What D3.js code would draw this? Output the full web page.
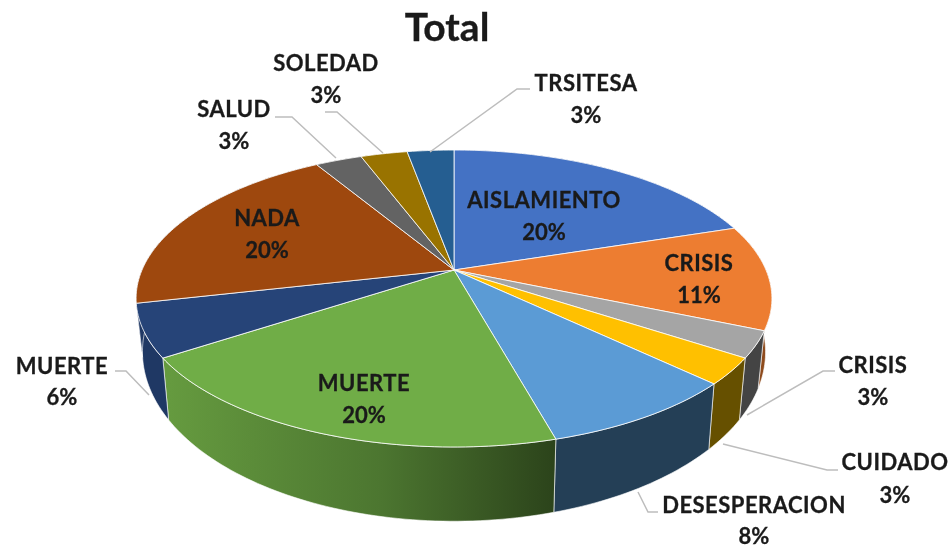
<!DOCTYPE html>
<html>
<head>
<meta charset="utf-8">
<script src="https://cdnjs.cloudflare.com/ajax/libs/d3/7.8.5/d3.min.js"></script>
<style>
  html, body { margin: 0; padding: 0; background: #fff; }
  svg { display: block; filter: blur(0.45px); }
  text { font-family: Lato, sans-serif; font-weight: 700; fill: #1a1a1a; stroke: #1a1a1a; stroke-width: 0.3px; text-anchor: middle; }
</style>
</head>
<body>
<div id="chart"></div>
<script>
// data: answer counts (35 answers), labels as printed
var categories = ["AISLAMIENTO", "CRISIS", "CRISIS", "CUIDADO", "DESESPERACION", "MUERTE", "MUERTE", "NADA", "SALUD", "SOLEDAD", "TRSITESA"];
var counts = [7, 4, 1, 1, 3, 7, 2, 7, 1, 1, 1];
var percentLabels = ["20%", "11%", "3%", "3%", "8%", "20%", "6%", "20%", "3%", "3%", "3%"];

// colours, top face and wall
var topColors = ["#4472c4", "#ed7d31", "#a5a5a5", "#ffc000", "#5b9bd5", "#70ad47", "#264478", "#9e480e", "#636363", "#997300", "#255e91"];
var wallColors = ["#294475", "#8e4b1d", "#444444", "#665000", "#243f56", "url(#greenWall)", "#1f3864", "#1f3864", "#3b3b3b", "#5c4500", "#163857"];

// label placement: centre x, y of both lines
var labelPlaces = [[544, 200, 232], [699, 263, 295], [873, 365, 397], [895, 462, 495], [754, 505, 536], [364, 383, 415], [62, 366, 397], [267, 218, 250], [234, 109, 141], [326, 63, 95], [586, 83, 115]];

// leader lines for the outside labels, index into categories then the 3 points
var leaders = [
  [2, [[835, 371], [823, 371], [747, 415]]],
  [3, [[838, 470], [827, 470], [723, 444]]],
  [4, [[658, 512], [648, 512], [638, 492]]],
  [6, [[115, 371], [126, 371], [149, 395]]],
  [8, [[275, 117], [292, 117], [336, 158]]],
  [9, [[325, 112], [337, 112], [383, 153]]],
  [10, [[530, 89], [517, 89], [430, 152]]]
];

var width = 949, height = 546;

var svg = d3.select("#chart")
  .append("svg")
    .attr("width", width)
    .attr("height", height);

var grad = svg.append("defs").append("linearGradient")
    .attr("id", "greenWall")
    .attr("gradientUnits", "userSpaceOnUse")
    .attr("x1", 170).attr("x2", 553).attr("y1", 0).attr("y2", 0);
grad.append("stop").attr("offset", "0%").attr("stop-color", "#659a3f");
grad.append("stop").attr("offset", "55%").attr("stop-color", "#4c7630");
grad.append("stop").attr("offset", "100%").attr("stop-color", "#2c441b");

// tilted disc: perspective projection of the unit circle
var cx = 454, cy = 270, rx = 312, ry = 143, persp = 0.192;

function project(angle) {
  var u = Math.sin(angle), v = -Math.cos(angle), w = 1 - persp * v;
  return [cx + rx * u / w, cy + ry * v / w];
}

function projectBottom(angle) {
  var p = project(angle), v = -Math.cos(angle), t = v / (1 - persp * v);
  return [cx + (p[0] - cx) * 0.98, p[1] + 49.5 + 20 * t];
}

var pie = d3.pie().sort(null).value(function(d) { return d; });
var slices = pie(counts);
var line = d3.line();

function sampleAngles(a0, a1) {
  var n = Math.max(2, Math.ceil((a1 - a0) / 0.02));
  return d3.range(n + 1).map(function(i) { return a0 + (a1 - a0) * i / n; });
}

// walls first, the top face covers whatever is behind it
svg.append("g").selectAll("path")
  .data(slices)
  .enter()
  .append("path")
    .attr("d", function(d) {
      var angles = sampleAngles(d.startAngle, d.endAngle);
      return line(angles.map(project).concat(angles.reverse().map(projectBottom))) + "Z";
    })
    .attr("fill", function(d, i) { return wallColors[i]; })
    .attr("stroke", "#fff")
    .attr("stroke-opacity", 0.6)
    .attr("stroke-width", 1);

svg.append("g").selectAll("path")
  .data(slices)
  .enter()
  .append("path")
    .attr("d", function(d) {
      var pts = [[cx, cy]].concat(sampleAngles(d.startAngle, d.endAngle).map(project));
      return line(pts) + "Z";
    })
    .attr("fill", function(d, i) { return topColors[i]; })
    .attr("stroke", "#fff")
    .attr("stroke-opacity", 0.8)
    .attr("stroke-width", 1)
    .attr("stroke-linejoin", "round");

// leaders
svg.append("g").selectAll("path")
  .data(leaders)
  .enter()
  .append("path")
    .attr("d", function(d) { return line(d[1]); })
    .attr("fill", "none")
    .attr("stroke", "#bdbdbd")
    .attr("stroke-width", 1.5);

// labels
var labels = svg.append("g").selectAll("g")
  .data(categories)
  .enter()
  .append("g");

labels.append("text")
    .attr("x", function(d, i) { return labelPlaces[i][0]; })
    .attr("y", function(d, i) { return labelPlaces[i][1]; })
    .attr("dy", "0.35em")
    .attr("font-size", 22)
    .attr("letter-spacing", 0.5)
    .text(function(d) { return d; });

labels.append("text")
    .attr("x", function(d, i) { return labelPlaces[i][0]; })
    .attr("y", function(d, i) { return labelPlaces[i][2]; })
    .attr("dy", "0.35em")
    .attr("font-size", 22)
    .text(function(d, i) { return percentLabels[i]; });

svg.append("text")
    .attr("x", 447)
    .attr("y", 27)
    .attr("dy", "0.35em")
    .attr("font-size", 39)
    .attr("stroke-width", 0.6)
    .text("Total");
</script>
</body>
</html>
